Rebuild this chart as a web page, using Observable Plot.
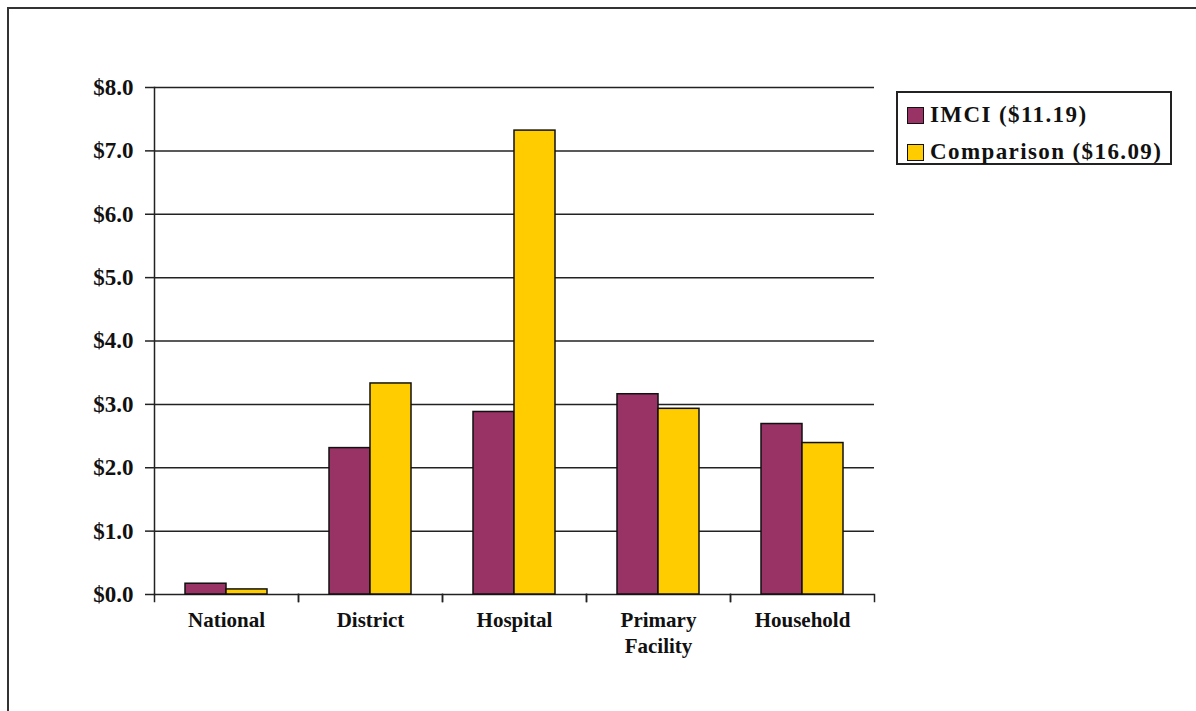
<!DOCTYPE html>
<html>
<head>
<meta charset="utf-8">
<script src="https://cdn.jsdelivr.net/npm/d3@7"></script>
<script src="https://cdn.jsdelivr.net/npm/@observablehq/plot@0.6"></script>
<style>
  html, body { margin: 0; padding: 0; background: #fff; }
  #wrap { position: relative; width: 1196px; height: 711px; overflow: hidden; }
  #border { position: absolute; left: 7px; top: 7px; right: -10px; bottom: -10px;
            border-left: 2px solid #333; border-top: 2px solid #333; }
  #chart { position: absolute; left: 0; top: 0; }
  #legend { position: absolute; left: 896px; top: 91px; width: 272px; height: 70px;
            border: 2px solid #222; background: #fff;
            font-family: "Liberation Serif", "Times New Roman", serif; font-weight: bold;
            font-size: 23px; letter-spacing: 1.4px; color: #111; }
  .item { position: absolute; left: 9px; display: flex; align-items: center; white-space: nowrap; }
  .swatch { width: 15px; height: 15px; border: 1px solid #111; margin-right: 6px; }
</style>
</head>
<body>
<div id="wrap">
  <div id="border"></div>
  <div id="chart"></div>
  <div id="legend"></div>
</div>
<script>
// Cost per category, in dollars
const categories = ["National", "District", "Hospital", "Primary\nFacility", "Household"];
const seriesNames = ["IMCI ($11.19)", "Comparison ($16.09)"];
const imciValues = [0.17, 2.31, 2.88, 3.16, 2.69];
const comparisonValues = [0.08, 3.33, 7.32, 2.93, 2.39];
const yTicks = [0, 1, 2, 3, 4, 5, 6, 7, 8];
const colors = ["#993366", "#FFCC00"];

const rows = categories.flatMap((c, i) => [
  {category: c, series: seriesNames[0], value: imciValues[i]},
  {category: c, series: seriesNames[1], value: comparisonValues[i]}
]);

const W = 1196, H = 711;
const mTop = 87, mBottom = 117, mLeft = 152, mRight = 321;
const plotH = H - mTop - mBottom;

const chart = Plot.plot({
  width: W,
  height: H,
  marginTop: mTop,
  marginBottom: mBottom,
  marginLeft: mLeft,
  marginRight: mRight,
  style: {fontFamily: "'Liberation Serif', 'Times New Roman', serif", fontWeight: "bold", color: "#111", background: "transparent"},
  fx: {domain: categories, padding: 0, axis: null, label: null},
  x: {domain: seriesNames, paddingInner: 0, paddingOuter: 0.73, axis: null, label: null},
  y: {domain: [0, 8], axis: null, label: null},
  color: {domain: seriesNames, range: colors},
  marks: [
    // horizontal gridlines, repeated in every category band
    Plot.ruleY(yTicks, {stroke: "#222", strokeWidth: 1.5}),
    // vertical value axis line, in the leftmost band only
    Plot.frame({anchor: "left", facetAnchor: "left", stroke: "#222", strokeWidth: 1.5}),
    // tick marks between categories below the baseline
    Plot.frame({anchor: "left", insetTop: plotH, insetBottom: -7, stroke: "#222", strokeWidth: 1.5}),
    Plot.frame({anchor: "right", insetTop: plotH, insetBottom: -7, stroke: "#222", strokeWidth: 1.5}),
    Plot.barY(rows, {fx: "category", x: "series", y: "value", fill: "series", stroke: "#111", strokeWidth: 1.5}),
    Plot.axisY(yTicks, {
      anchor: "left",
      tickSize: 9,
      tickPadding: 12,
      tickFormat: d => "$" + d.toFixed(1),
      fontSize: 23,
      stroke: "#222",
      strokeWidth: 1.5,
      label: null,
      style: {letterSpacing: "1.2px"}
    }),
    Plot.text(categories, {
      fx: d => d,
      text: d => d,
      frameAnchor: "bottom",
      lineAnchor: "top",
      dy: 15,
      lineHeight: 1.2,
      fontSize: 21,
      fill: "#111"
    })
  ]
});
document.getElementById("chart").appendChild(chart);

// Legend
const legend = document.getElementById("legend");
seriesNames.forEach((name, i) => {
  const item = document.createElement("div");
  item.className = "item";
  item.style.top = (i === 0 ? 9 : 46) + "px";
  const sw = document.createElement("div");
  sw.className = "swatch";
  sw.style.background = colors[i];
  const label = document.createElement("span");
  label.textContent = name;
  item.appendChild(sw);
  item.appendChild(label);
  legend.appendChild(item);
});
</script>
</body>
</html>
